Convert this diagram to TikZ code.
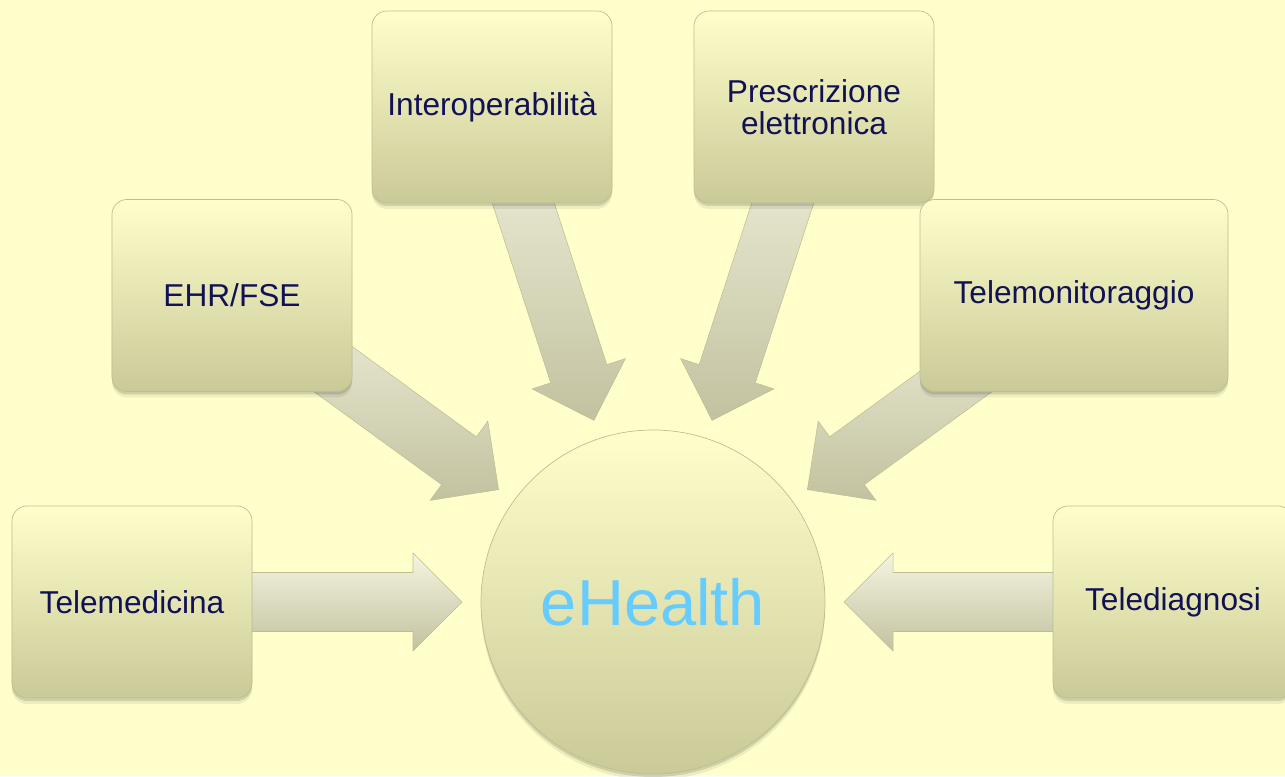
\documentclass[tikz,border=0pt]{standalone}
\usepackage{fontspec}
\setmainfont{Liberation Sans}
\usetikzlibrary{calc,shadows}

\definecolor{pagebg}{RGB}{255,255,204}
\definecolor{boxtop}{RGB}{255,255,204}
\definecolor{boxbot}{RGB}{202,202,152}
\definecolor{boxline}{RGB}{190,190,146}
\definecolor{arrtop}{RGB}{245,244,224}
\definecolor{arrbot}{RGB}{194,194,160}
\definecolor{navy}{RGB}{17,17,85}
\definecolor{skyblue}{RGB}{102,204,255}

\pgfdeclarelayer{bg}
\pgfdeclarelayer{spokes}
\pgfsetlayers{bg,spokes,main}

\tikzset{
  softshadow/.style = {
    drop shadow={shadow xshift=0pt, shadow yshift=-1.2mm, fill=black, opacity=0.07},
    drop shadow={shadow xshift=0pt, shadow yshift=-0.6mm, fill=black, opacity=0.12}},
  topic/.style = {rectangle, rounded corners=3mm, draw=boxline, line width=0.4pt,
    softshadow, top color=boxtop, bottom color=boxbot,
    minimum width=48mm, minimum height=38.4mm, align=center,
    text=navy, font=\fontsize{18}{18.5}\selectfont},
  hubnode/.style = {circle, minimum size=68.8mm, inner sep=0pt,
    draw=boxline, line width=0.4pt, softshadow,
    top color=boxtop, bottom color=boxbot,
    text=skyblue, font=\fontsize{37}{40}\selectfont},
  spoke/.style = {draw=boxline, line width=0.3pt,
    top color=arrtop, bottom color=arrbot}
}

% block arrow from topic #1 into the hub #2
\newcommand{\spoke}[2]{%
  \coordinate (#1-tip) at ($(#2)!38.2mm!(#1)$);
  \coordinate (#1-neck) at ($(#2)!48mm!(#1)$);
  \path[spoke] (#1-tip)
    -- ($(#1-neck)!9.8mm!90:(#1)$)
    -- ($(#1-neck)!5.9mm!90:(#1)$)
    -- ($(#1)!5.9mm!-90:(#1-neck)$)
    -- ($(#1)!5.9mm!90:(#1-neck)$)
    -- ($(#1-neck)!5.9mm!-90:(#1)$)
    -- ($(#1-neck)!9.8mm!-90:(#1)$)
    -- cycle;
}

\begin{document}
\begin{tikzpicture}[x=0.2mm, y=0.2mm]
    \begin{pgfonlayer}{bg}
        \fill[pagebg] (0,0) rectangle (1285,776);
    \end{pgfonlayer}
    \useasboundingbox (0,0) rectangle (1285,776);

    \node[hubnode] (hub) at (653,174) {eHealth};

    \node[topic] (telemed) at (132,174) {Telemedicina};
    \node[topic] (ehr) at (232,480.5) {EHR/FSE};
    \node[topic] (interop) at (492,669) {Interoperabilità};
    \node[topic] (presc) at (814,669) {Prescrizione\\elettronica};
    \node[topic, minimum width=61.6mm] (telemon) at (1074,480.5) {Telemonitoraggio};
    \node[topic] (telediag) at (1173,174) {Telediagnosi};

    \begin{pgfonlayer}{spokes}
        \foreach \t in {telemed, ehr, interop, presc, telemon, telediag}
            \spoke{\t}{hub};
    \end{pgfonlayer}
\end{tikzpicture}
\end{document}
